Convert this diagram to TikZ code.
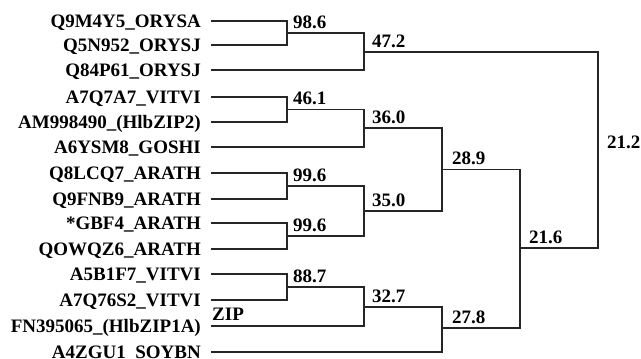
\documentclass[tikz,border=0pt]{standalone}
\usepackage{fontspec}
\setmainfont{Liberation Serif}
\begin{document}
\begin{tikzpicture}[x=1pt,y=-1pt,
  leaf/.style={anchor=base east,inner sep=0pt,font=\fontsize{19}{22}\selectfont\bfseries},
  val/.style={anchor=base west,inner sep=0pt,font=\fontsize{19}{22}\selectfont\bfseries},
  br/.style={line width=1.2pt,draw=black!85}]
\useasboundingbox (0,0) rectangle (641,359);
% leaf labels
\foreach \n/\y/\t in {1/21/Q9M4Y5\_ORYSA,2/45/Q5N952\_ORYSJ,3/70/Q84P61\_ORYSJ,4/97/A7Q7A7\_VITVI,5/122/AM998490\_(HlbZIP2),6/147/A6YSM8\_GOSHI,7/173/Q8LCQ7\_ARATH,8/199/Q9FNB9\_ARATH,9/223/{*}GBF4\_ARATH,10/249/QOWQZ6\_ARATH,11/274/A5B1F7\_VITVI,12/300/A7Q76S2\_VITVI,13/326/FN395065\_(HlbZIP1A),14/352/A4ZGU1\_SOYBN}{
  \node[leaf] (t\n) at (201,\y+6.5) {\t};
  \coordinate (l\n) at (211,\y);
}
% internal nodes
\coordinate (a) at (287,33);
\coordinate (b) at (364,52);
\coordinate (c) at (287,109.5);
\coordinate (d) at (364,128);
\coordinate (e) at (287,186);
\coordinate (f) at (287,236);
\coordinate (g) at (364,211);
\coordinate (h) at (442,169.5);
\coordinate (i) at (287,287);
\coordinate (j) at (364,307);
\coordinate (k) at (442,328);
\coordinate (m) at (520,248);
\coordinate (r) at (598,150);
% connectors
\draw[br] (l1) -| (a); \draw[br] (l2) -| (a);
\draw[br] (a) -| (b); \draw[br] (l3) -| (b);
\draw[br] (l4) -| (c); \draw[br] (l5) -| (c);
\draw[br] (c) -| (d); \draw[br] (l6) -| (d);
\draw[br] (l7) -| (e); \draw[br] (l8) -| (e);
\draw[br] (l9) -| (f); \draw[br] (l10) -| (f);
\draw[br] (e) -| (g); \draw[br] (f) -| (g);
\draw[br] (d) -| (h); \draw[br] (g) -| (h);
\draw[br] (l11) -| (i); \draw[br] (l12) -| (i);
\draw[br] (i) -| (j); \draw[br] (l13) -| (j);
\draw[br] (j) -| (k); \draw[br] (l14) -| (k);
\draw[br] (h) -| (m); \draw[br] (k) -| (m);
\draw[br] (b) -| (r); \draw[br] (m) -| (r);
% values
\node[val] (va) at ([xshift=6pt,yshift=5pt]a) {98.6};
\node[val] (vb) at ([xshift=8pt,yshift=5pt]b) {47.2};
\node[val] (vc) at ([xshift=6pt,yshift=5pt]c) {46.1};
\node[val] (vd) at ([xshift=8pt,yshift=5pt]d) {36.0};
\node[val] (ve) at ([xshift=6pt,yshift=5pt]e) {99.6};
\node[val] (vf) at ([xshift=6pt,yshift=5pt]f) {99.6};
\node[val] (vg) at ([xshift=8pt,yshift=5pt]g) {35.0};
\node[val] (vh) at ([xshift=10pt,yshift=5pt]h) {28.9};
\node[val] (vi) at ([xshift=6pt,yshift=5pt]i) {88.7};
\node[val] (vj) at ([xshift=8pt,yshift=5pt]j) {32.7};
\node[val] (vk) at ([xshift=10pt,yshift=5pt]k) {27.8};
\node[val] (vm) at ([xshift=9pt,yshift=5pt]m) {21.6};
\node[val] (vr) at ([xshift=9pt,yshift=2pt]r) {21.2};
\node[val] (zip) at ([xshift=1pt,yshift=6pt]l13) {ZIP};
\end{tikzpicture}
\end{document}
